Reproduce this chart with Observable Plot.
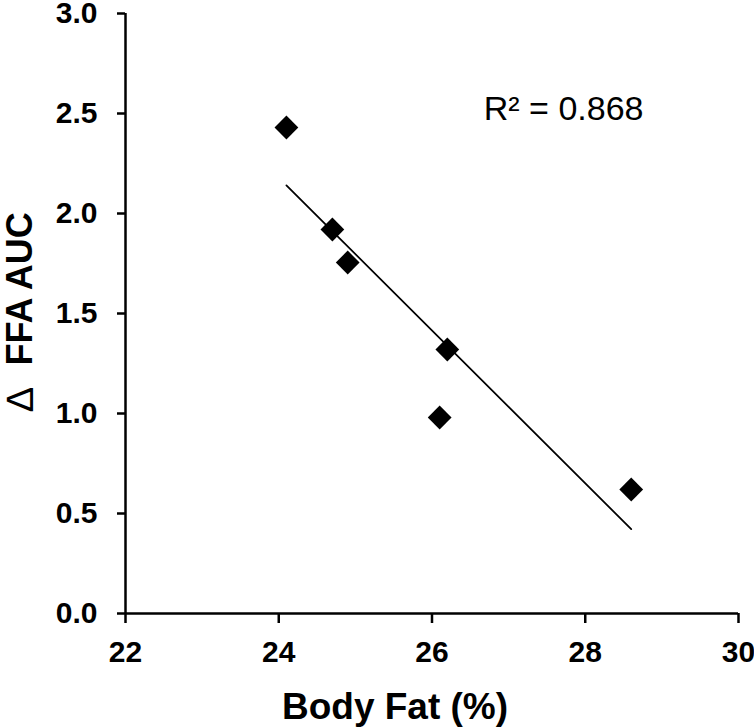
<!DOCTYPE html>
<html><head><meta charset="utf-8">
<script src="https://cdn.jsdelivr.net/npm/d3@7"></script>
<script src="https://cdn.jsdelivr.net/npm/@observablehq/plot@0.6"></script>
<style>body{margin:0;background:#fff;}</style>
</head><body><div id="chart"></div>
<script>
const bodyFat = [24.1, 24.7, 24.9, 26.2, 26.1, 28.6];
const ffaAUC = [2.43, 1.92, 1.755, 1.32, 0.98, 0.62];
const xTicks = [22, 24, 26, 28, 30];
const yTicks = [0, 0.5, 1, 1.5, 2, 2.5, 3];
const xTitle = "Body Fat (%)";
const yTitleSymbol = "\u2206";
const yTitleText = "FFA AUC";
const r2Label = "R\u00b2 = 0.868";

const data = bodyFat.map((x, i) => ({x, y: ffaAUC[i]}));
const font = "'Liberation Sans', Arial, sans-serif";

const chart = Plot.plot({
  width: 754, height: 728,
  marginLeft: 125, marginRight: 16, marginTop: 13, marginBottom: 115,
  style: {fontFamily: font, background: "#fff", color: "#000"},
  x: {domain: [22, 30]},
  y: {domain: [0, 3]},
  marks: [
    Plot.ruleY([0], {strokeWidth: 2.5}),
    Plot.ruleX([22], {strokeWidth: 2.5}),
    Plot.axisY({ticks: yTicks, tickSize: 8, tickPadding: 20, tickFormat: d3.format(".1f"),
      fontSize: 30, fontWeight: "bold", strokeWidth: 2.5, label: null}),
    Plot.axisX({ticks: xTicks, tickSize: 10, tickPadding: 17, tickFormat: d3.format("d"),
      fontSize: 30, fontWeight: "bold", strokeWidth: 2.5, label: null}),
    Plot.linearRegressionY(data, {x: "x", y: "y", stroke: "#000", strokeWidth: 1.75, ci: 0}),
    Plot.dot(data, {x: "x", y: "y", symbol: "diamond2", r: 10.7, fill: "#000", stroke: "none"}),
    Plot.text([r2Label], {frameAnchor: "top-right", textAnchor: "end", lineAnchor: "bottom",
      dx: -95, dy: 106, fontSize: 34, fill: "#000"}),
    Plot.text([xTitle], {frameAnchor: "bottom", textAnchor: "middle", lineAnchor: "middle", dx: -37, dy: 94,
      fontSize: 37, fontWeight: "bold", fill: "#000"}),
    Plot.text([yTitleText], {frameAnchor: "left", rotate: -90, textAnchor: "start", lineAnchor: "middle",
      dx: -105, dy: 52, fontSize: 36, fontWeight: "bold", fill: "#000"}),
    Plot.text([yTitleSymbol], {frameAnchor: "left", rotate: -90, textAnchor: "middle", lineAnchor: "middle",
      dx: -105, dy: 86, fontSize: 38, fontWeight: "normal", fill: "#000"})
  ]
});
document.getElementById("chart").append(chart);
</script>
</body></html>
